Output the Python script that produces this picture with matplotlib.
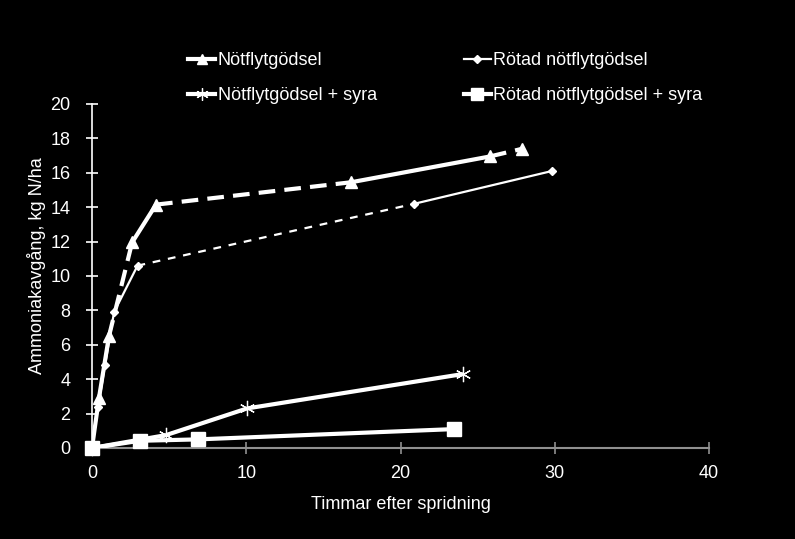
import matplotlib
matplotlib.use("Agg")
import matplotlib.pyplot as plt
from matplotlib.lines import Line2D

plt.rcParams['font.family'] = ['Liberation Sans', 'DejaVu Sans']

# Data
labels = ["Nötflytgödsel", "Rötad nötflytgödsel", "Nötflytgödsel + syra", "Rötad nötflytgödsel + syra"]
x_not = [0, 0.45, 1.1, 2.6, 4.15, 16.8, 25.8, 27.9]
y_not = [0, 2.9, 6.5, 11.95, 14.15, 15.45, 16.95, 17.4]
x_rot = [0, 0.4, 0.84, 1.43, 2.95, 20.9, 29.8]
y_rot = [0, 2.4, 4.8, 7.9, 10.6, 14.2, 16.1]
x_not_s = [0, 4.8, 10.05, 24.05]
y_not_s = [0, 0.75, 2.3, 4.3]
x_rot_s = [0, 3.1, 6.85, 23.5]
y_rot_s = [0, 0.42, 0.5, 1.1]
xticks = [0, 10, 20, 30, 40]
yticks = list(range(0, 21, 2))

# segment styles (solid / dashed) per segment
seg_not = ['-', '-', 'd', '-', 'd', '-', 'd']
seg_rot = ['-', '-', '-', '-', 'd', '-']

fig = plt.figure(figsize=(7.95, 5.39), dpi=100, facecolor='black')
ax = fig.add_axes([92/795, 91/539, 617/795, 344/539])
ax.set_facecolor('black')

def draw(x, y, segs, lw, dashes, marker, ms, mew=1):
    for i, s in enumerate(segs):
        kw = dict(color='white', lw=lw, solid_capstyle='butt', dash_capstyle='butt', zorder=3)
        if s == 'd':
            ax.plot(x[i:i+2], y[i:i+2], linestyle=(0, dashes), **kw)
        else:
            ax.plot(x[i:i+2], y[i:i+2], linestyle='-', **kw)
    ax.plot(x, y, linestyle='none', marker=marker, ms=ms, color='white',
            mec='white', mew=mew, zorder=4, clip_on=False)

draw(x_not, y_not, seg_not, 3.0, (4, 2.2), '^', 8)
draw(x_rot, y_rot, seg_rot, 1.6, (3.5, 3.5), 'D', 4.5)
draw(x_not_s, y_not_s, ['-'] * 3, 3.0, (4, 2), (6, 2, 0), 11, 0.9)
draw(x_rot_s, y_rot_s, ['-'] * 3, 3.0, (4, 2), 's', 10)

ax.set_xlim(0, 40)
ax.set_ylim(0, 20)
ax.set_xticks(xticks)
ax.set_yticks(yticks)
for sp in ['top', 'right']:
    ax.spines[sp].set_visible(False)
ax.spines['left'].set_color('white')
ax.spines['left'].set_linewidth(1.2)
ax.spines['bottom'].set_color('#909090')
ax.spines['bottom'].set_linewidth(1.5)
ax.tick_params(axis='y', direction='inout', length=9, width=1.2, color='white',
               labelcolor='white', labelsize=13, pad=11)
ax.tick_params(axis='x', direction='inout', length=9, width=1.2, color='#909090',
               labelcolor='white', labelsize=13, pad=8)

ax.set_xlabel("Timmar efter spridning", color='white', fontsize=13)
ax.xaxis.set_label_coords(0.5, -0.14)
ax.set_ylabel("Ammoniakavgång, kg N/ha", color='white', fontsize=13)
ax.yaxis.set_label_coords(-0.075, 0.53)

handles = [
    Line2D([], [], color='white', lw=3, marker='^', ms=7),
    Line2D([], [], color='white', lw=3, marker=(6, 2, 0), ms=9, mew=0.9),
    Line2D([], [], color='white', lw=1.6, marker='D', ms=4),
    Line2D([], [], color='white', lw=3, marker='s', ms=9),
]
leg_labels = [labels[0], labels[2], labels[1], labels[3]]
leg = fig.legend(handles, leg_labels, ncol=2, loc='upper left',
                 bbox_to_anchor=(188/795, 1 - 52/539), frameon=False,
                 fontsize=13, labelcolor='white', handlelength=1.5,
                 handletextpad=0.15, columnspacing=4.8, labelspacing=1.0,
                 borderpad=0, borderaxespad=0)

fig.savefig("out.png", dpi=100, facecolor='black')
